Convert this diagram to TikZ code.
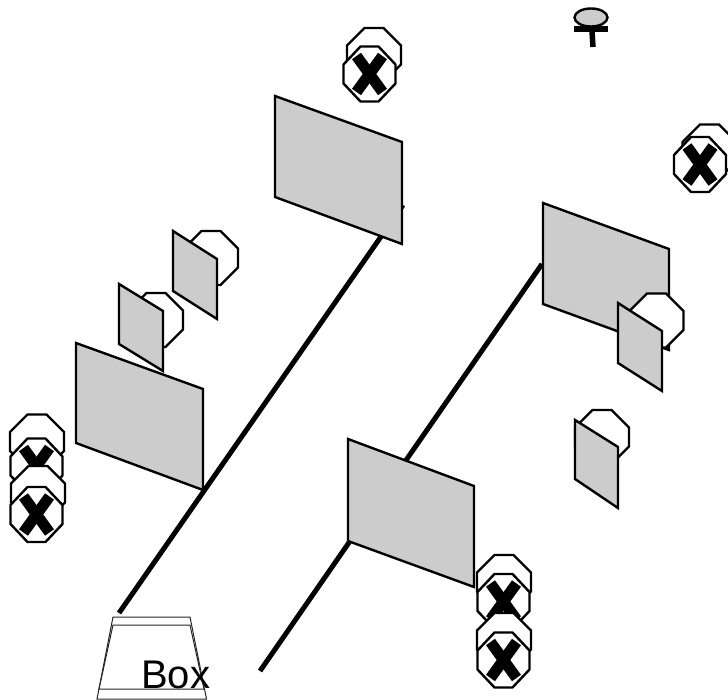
\documentclass[tikz,border=0pt]{standalone}
\usepackage{fontspec}
\setmainfont{Liberation Sans}
\definecolor{panelgray}{RGB}{204,204,204}
\tikzset{
  panel/.style={draw=black,fill=panelgray,line width=2.4pt,line join=miter},
  octa/.style={draw=black,fill=white,line width=2.4pt},
  cross/.style={draw=black,line width=11pt,line cap=butt},
  rail/.style={draw=black,line width=5pt,line cap=butt},
  boxline/.style={draw=black!85,line width=1pt},
  pics/backocta/.style={code={
    \draw[octa] (-9.5,-27)--(9.5,-27)--(27,-9.5)--(27,9.5)--(9.5,27)--(-9.5,27)--(-27,9.5)--(-27,-9.5)--cycle;
  }},
  pics/stopocta/.style={code={
    \draw[octa] (-9,-27.5)--(9,-27.5)--(26,-9.5)--(26,9.5)--(9,27.5)--(-9,27.5)--(-26,9.5)--(-26,-9.5)--cycle;
    \draw[cross] (-13,-18)--(13,18);
    \draw[cross] (13,-18)--(-13,18);
  }}
}
\begin{document}
\begin{tikzpicture}[x=1pt,y=-1pt]
\useasboundingbox (0,0) rectangle (728,700);
\clip (0,0) rectangle (728,700);
% rails
\coordinate (railAa) at (119,613);
\coordinate (railAb) at (403,205);
\coordinate (railBa) at (260,671);
\coordinate (railBb) at (542,264);
\draw[rail] (railAa)--(railAb);
\draw[rail] (railBa)--(railBb);
% large panels
\draw[panel] (275,96)--(402,142)--(402,244)--(275,197)--cycle;
\draw[panel] (543,203)--(669,249)--(669,350)--(543,304)--cycle;
\draw[panel] (76,343)--(203,389)--(203,490)--(76,443)--cycle;
\draw[panel] (348,439)--(474,486)--(474,587)--(348,541)--cycle;
% small panels with octagons behind
\pic at (211,258) {backocta};
\draw[panel] (173,231)--(217,259)--(217,319)--(173,291)--cycle;
\pic at (156,320) {backocta};
\draw[panel] (119,284)--(163,311)--(163,371)--(119,344)--cycle;
\pic at (656.5,320.5) {backocta};
\draw[panel] (618,303)--(662,331)--(662,391)--(618,363)--cycle;
\pic at (602,437) {backocta};
\draw[panel] (575,420)--(618,447)--(618,508)--(575,479)--cycle;
% stop signs
\pic at (374,55) {backocta};
\pic at (369.5,74) {stopocta};
\pic at (709.5,151.5) {backocta};
\pic at (700,164.5) {stopocta};
\pic at (37,441.5) {backocta};
\pic at (36.5,466) {stopocta};
\pic at (38,493) {backocta};
\pic at (36.5,514.5) {stopocta};
\pic at (504,582) {backocta};
\pic at (503.5,601.5) {stopocta};
\pic at (504,640) {backocta};
\pic at (503.5,660) {stopocta};
% signal at top
\fill[black] (574,26.5) rectangle (607.5,32.5);
\draw[black,fill=panelgray,line width=2.4pt] (591,17.5) ellipse [x radius=16.5,y radius=9];
\draw[black,line width=5.5pt] (592,31)--(593,47);
% box
\draw[boxline] (113,617)--(190,617)--(206.5,699)--(97,699)--cycle;
\draw[boxline] (113,625)--(190,625)--(204,689)--(99,689)--cycle;
\node[anchor=base west,inner sep=0pt,font=\fontsize{40}{40}\selectfont] (boxlabel) at (141,688.5) {Box};
\end{tikzpicture}
\end{document}
